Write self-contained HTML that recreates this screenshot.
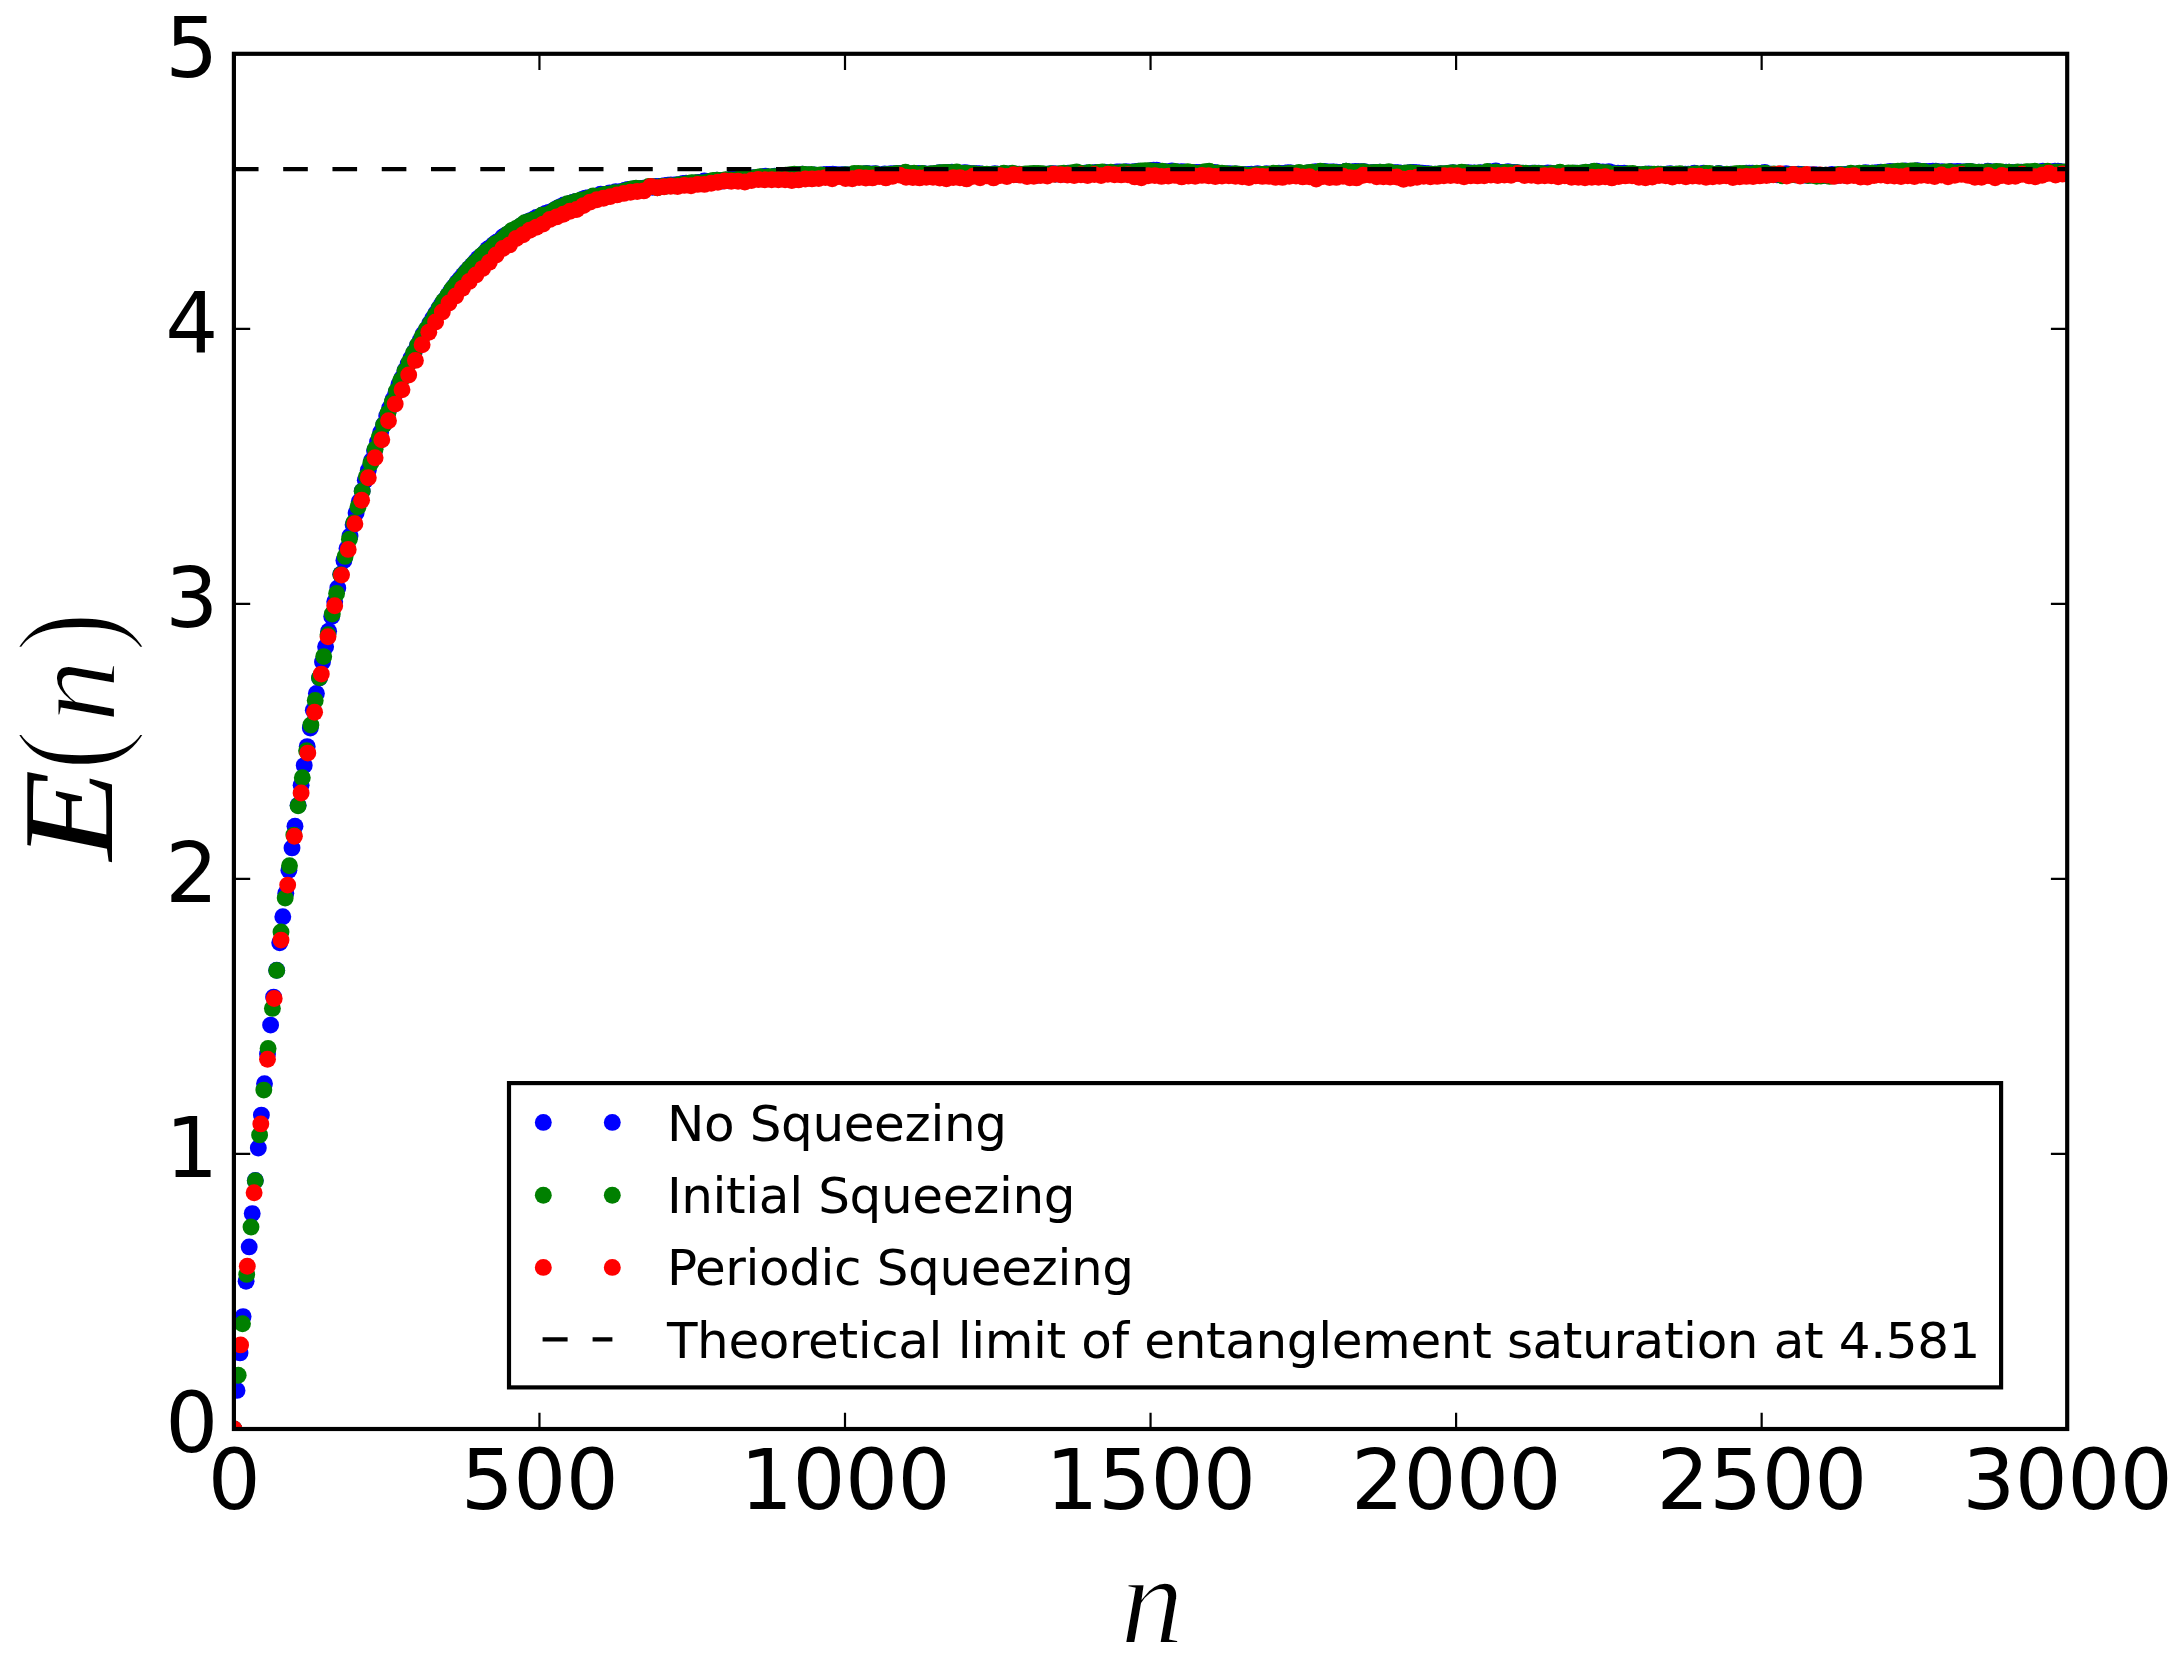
<!DOCTYPE html>
<html lang="en">
<head>
<meta charset="utf-8">
<title>E(n) entanglement saturation</title>
<style>
html,body{margin:0;padding:0;background:#fff;}
body{width:2182px;height:1662px;overflow:hidden;}
svg{display:block;}
.tick{font-family:"DejaVu Sans","Liberation Sans",sans-serif;font-size:83.33px;fill:#000;letter-spacing:-0.5px;}
.leg{font-family:"DejaVu Sans","Liberation Sans",sans-serif;font-size:50px;fill:#000;letter-spacing:-0.37px;}
.mi{font-family:"Liberation Serif","DejaVu Serif",serif;font-style:italic;fill:#000;}
.mr{font-family:"Liberation Serif","DejaVu Serif",serif;fill:#000;}
</style>
</head>
<body>
<svg width="2182" height="1662" viewBox="0 0 2182 1662">
<rect x="0" y="0" width="2182" height="1662" fill="#ffffff"/>
<defs><clipPath id="ax"><rect x="233.90" y="53.80" width="1833.30" height="1375.20"/></clipPath></defs>

<g clip-path="url(#ax)">
<g fill="#0000ff">
<circle cx="233.9" cy="1429.0" r="8.45"/>
<circle cx="237.0" cy="1390.4" r="8.45"/>
<circle cx="240.0" cy="1352.9" r="8.45"/>
<circle cx="243.1" cy="1316.6" r="8.45"/>
<circle cx="246.1" cy="1281.3" r="8.45"/>
<circle cx="249.2" cy="1246.9" r="8.45"/>
<circle cx="252.2" cy="1213.6" r="8.45"/>
<circle cx="255.3" cy="1180.5" r="8.45"/>
<circle cx="258.3" cy="1148.0" r="8.45"/>
<circle cx="261.4" cy="1115.1" r="8.45"/>
<circle cx="264.5" cy="1083.8" r="8.45"/>
<circle cx="267.5" cy="1054.1" r="8.45"/>
<circle cx="270.6" cy="1025.1" r="8.45"/>
<circle cx="273.6" cy="997.1" r="8.45"/>
<circle cx="276.7" cy="970.2" r="8.45"/>
<circle cx="279.7" cy="942.7" r="8.45"/>
<circle cx="282.8" cy="916.8" r="8.45"/>
<circle cx="285.8" cy="893.2" r="8.45"/>
<circle cx="288.9" cy="870.2" r="8.45"/>
<circle cx="292.0" cy="847.9" r="8.45"/>
<circle cx="295.0" cy="826.2" r="8.45"/>
<circle cx="298.1" cy="805.3" r="8.45"/>
<circle cx="301.1" cy="785.2" r="8.45"/>
<circle cx="304.2" cy="765.6" r="8.45"/>
<circle cx="307.2" cy="746.6" r="8.45"/>
<circle cx="310.3" cy="728.1" r="8.45"/>
<circle cx="313.3" cy="710.3" r="8.45"/>
<circle cx="316.4" cy="693.5" r="8.45"/>
<circle cx="319.5" cy="677.9" r="8.45"/>
<circle cx="322.5" cy="661.9" r="8.45"/>
<circle cx="325.6" cy="646.8" r="8.45"/>
<circle cx="328.6" cy="631.2" r="8.45"/>
<circle cx="331.7" cy="616.6" r="8.45"/>
<circle cx="334.7" cy="601.8" r="8.45"/>
<circle cx="337.8" cy="588.0" r="8.45"/>
<circle cx="340.8" cy="574.2" r="8.45"/>
<circle cx="343.9" cy="560.4" r="8.45"/>
<circle cx="347.0" cy="548.6" r="8.45"/>
<circle cx="350.0" cy="536.1" r="8.45"/>
<circle cx="353.1" cy="524.8" r="8.45"/>
<circle cx="356.1" cy="513.0" r="8.45"/>
<circle cx="359.2" cy="501.7" r="8.45"/>
<circle cx="362.2" cy="491.0" r="8.45"/>
<circle cx="365.3" cy="480.3" r="8.45"/>
<circle cx="368.3" cy="470.2" r="8.45"/>
<circle cx="371.4" cy="460.8" r="8.45"/>
<circle cx="374.5" cy="450.8" r="8.45"/>
<circle cx="377.5" cy="442.1" r="8.45"/>
<circle cx="380.6" cy="432.4" r="8.45"/>
<circle cx="383.6" cy="424.7" r="8.45"/>
<circle cx="386.7" cy="415.9" r="8.45"/>
<circle cx="389.7" cy="408.0" r="8.45"/>
<circle cx="392.8" cy="399.8" r="8.45"/>
<circle cx="395.8" cy="392.7" r="8.45"/>
<circle cx="398.9" cy="384.6" r="8.45"/>
<circle cx="402.0" cy="377.9" r="8.45"/>
<circle cx="405.0" cy="370.5" r="8.45"/>
<circle cx="408.1" cy="364.1" r="8.45"/>
<circle cx="411.1" cy="357.9" r="8.45"/>
<circle cx="414.2" cy="352.2" r="8.45"/>
<circle cx="417.2" cy="345.7" r="8.45"/>
<circle cx="420.3" cy="340.2" r="8.45"/>
<circle cx="423.3" cy="334.1" r="8.45"/>
<circle cx="426.4" cy="329.5" r="8.45"/>
<circle cx="429.5" cy="323.8" r="8.45"/>
<circle cx="432.5" cy="318.7" r="8.45"/>
<circle cx="435.6" cy="313.7" r="8.45"/>
<circle cx="438.6" cy="308.8" r="8.45"/>
<circle cx="441.7" cy="304.1" r="8.45"/>
<circle cx="444.7" cy="299.9" r="8.45"/>
<circle cx="447.8" cy="295.6" r="8.45"/>
<circle cx="450.8" cy="291.1" r="8.45"/>
<circle cx="453.9" cy="286.7" r="8.45"/>
<circle cx="457.0" cy="282.4" r="8.45"/>
<circle cx="460.0" cy="278.9" r="8.45"/>
<circle cx="463.1" cy="275.2" r="8.45"/>
<circle cx="466.1" cy="271.8" r="8.45"/>
<circle cx="469.2" cy="268.4" r="8.45"/>
<circle cx="472.2" cy="265.3" r="8.45"/>
<circle cx="475.3" cy="261.8" r="8.45"/>
<circle cx="478.3" cy="258.2" r="8.45"/>
<circle cx="481.4" cy="255.9" r="8.45"/>
<circle cx="484.5" cy="253.1" r="8.45"/>
<circle cx="487.5" cy="249.2" r="8.45"/>
<circle cx="490.6" cy="247.2" r="8.45"/>
<circle cx="493.6" cy="244.4" r="8.45"/>
<circle cx="496.7" cy="242.1" r="8.45"/>
<circle cx="499.7" cy="240.6" r="8.45"/>
<circle cx="502.8" cy="237.0" r="8.45"/>
<circle cx="505.8" cy="235.1" r="8.45"/>
<circle cx="508.9" cy="233.5" r="8.45"/>
<circle cx="512.0" cy="231.3" r="8.45"/>
<circle cx="515.0" cy="229.6" r="8.45"/>
<circle cx="518.1" cy="228.0" r="8.45"/>
<circle cx="521.1" cy="225.8" r="8.45"/>
<circle cx="524.2" cy="223.8" r="8.45"/>
<circle cx="527.2" cy="221.9" r="8.45"/>
<circle cx="530.3" cy="220.6" r="8.45"/>
<circle cx="533.3" cy="219.4" r="8.45"/>
<circle cx="536.4" cy="217.5" r="8.45"/>
<circle cx="539.4" cy="217.0" r="8.45"/>
<circle cx="542.5" cy="215.0" r="8.45"/>
<circle cx="545.6" cy="213.4" r="8.45"/>
<circle cx="548.6" cy="212.5" r="8.45"/>
<circle cx="551.7" cy="211.6" r="8.45"/>
<circle cx="554.7" cy="209.8" r="8.45"/>
<circle cx="557.8" cy="208.0" r="8.45"/>
<circle cx="560.8" cy="206.6" r="8.45"/>
<circle cx="563.9" cy="204.9" r="8.45"/>
<circle cx="566.9" cy="204.9" r="8.45"/>
<circle cx="570.0" cy="203.4" r="8.45"/>
<circle cx="573.1" cy="202.1" r="8.45"/>
<circle cx="576.1" cy="201.5" r="8.45"/>
<circle cx="579.2" cy="201.6" r="8.45"/>
<circle cx="582.2" cy="199.5" r="8.45"/>
<circle cx="585.3" cy="198.1" r="8.45"/>
<circle cx="588.3" cy="197.8" r="8.45"/>
<circle cx="591.4" cy="197.9" r="8.45"/>
<circle cx="594.4" cy="197.0" r="8.45"/>
<circle cx="597.5" cy="196.0" r="8.45"/>
<circle cx="600.6" cy="194.3" r="8.45"/>
<circle cx="603.6" cy="194.5" r="8.45"/>
<circle cx="606.7" cy="194.2" r="8.45"/>
<circle cx="609.7" cy="193.0" r="8.45"/>
<circle cx="612.8" cy="193.1" r="8.45"/>
<circle cx="615.8" cy="191.7" r="8.45"/>
<circle cx="618.9" cy="192.2" r="8.45"/>
<circle cx="621.9" cy="191.5" r="8.45"/>
<circle cx="625.0" cy="190.3" r="8.45"/>
<circle cx="628.1" cy="189.4" r="8.45"/>
<circle cx="631.1" cy="189.2" r="8.45"/>
<circle cx="634.2" cy="188.9" r="8.45"/>
<circle cx="637.2" cy="189.3" r="8.45"/>
<circle cx="640.3" cy="188.5" r="8.45"/>
<circle cx="643.3" cy="188.2" r="8.45"/>
<circle cx="646.4" cy="187.9" r="8.45"/>
<circle cx="649.4" cy="187.1" r="8.45"/>
<circle cx="652.5" cy="187.2" r="8.45"/>
<circle cx="655.6" cy="186.5" r="8.45"/>
<circle cx="658.6" cy="186.5" r="8.45"/>
<circle cx="661.7" cy="186.3" r="8.45"/>
<circle cx="664.7" cy="185.8" r="8.45"/>
<circle cx="667.8" cy="185.3" r="8.45"/>
<circle cx="670.8" cy="184.9" r="8.45"/>
<circle cx="673.9" cy="185.1" r="8.45"/>
<circle cx="676.9" cy="184.7" r="8.45"/>
<circle cx="680.0" cy="184.9" r="8.45"/>
<circle cx="683.1" cy="183.4" r="8.45"/>
<circle cx="686.1" cy="183.1" r="8.45"/>
<circle cx="689.2" cy="183.4" r="8.45"/>
<circle cx="692.2" cy="183.2" r="8.45"/>
<circle cx="695.3" cy="183.3" r="8.45"/>
<circle cx="698.3" cy="182.4" r="8.45"/>
<circle cx="701.4" cy="182.1" r="8.45"/>
<circle cx="704.4" cy="180.9" r="8.45"/>
<circle cx="707.5" cy="181.4" r="8.45"/>
<circle cx="710.6" cy="181.6" r="8.45"/>
<circle cx="713.6" cy="181.9" r="8.45"/>
<circle cx="716.7" cy="180.1" r="8.45"/>
<circle cx="719.7" cy="180.4" r="8.45"/>
<circle cx="722.8" cy="181.0" r="8.45"/>
<circle cx="725.8" cy="180.2" r="8.45"/>
<circle cx="728.9" cy="180.8" r="8.45"/>
<circle cx="731.9" cy="178.6" r="8.45"/>
<circle cx="735.0" cy="179.4" r="8.45"/>
<circle cx="738.1" cy="179.3" r="8.45"/>
<circle cx="741.1" cy="179.3" r="8.45"/>
<circle cx="744.2" cy="179.8" r="8.45"/>
<circle cx="747.2" cy="178.6" r="8.45"/>
<circle cx="750.3" cy="178.7" r="8.45"/>
<circle cx="753.3" cy="177.6" r="8.45"/>
<circle cx="756.4" cy="178.4" r="8.45"/>
<circle cx="759.4" cy="177.7" r="8.45"/>
<circle cx="762.5" cy="176.6" r="8.45"/>
<circle cx="765.6" cy="176.3" r="8.45"/>
<circle cx="768.6" cy="177.4" r="8.45"/>
<circle cx="771.7" cy="177.3" r="8.45"/>
<circle cx="774.7" cy="176.2" r="8.45"/>
<circle cx="777.8" cy="176.1" r="8.45"/>
<circle cx="780.8" cy="176.6" r="8.45"/>
<circle cx="783.9" cy="176.2" r="8.45"/>
<circle cx="786.9" cy="175.9" r="8.45"/>
<circle cx="790.0" cy="175.9" r="8.45"/>
<circle cx="793.1" cy="175.5" r="8.45"/>
<circle cx="796.1" cy="174.6" r="8.45"/>
<circle cx="799.2" cy="174.7" r="8.45"/>
<circle cx="802.2" cy="174.1" r="8.45"/>
<circle cx="805.3" cy="175.0" r="8.45"/>
<circle cx="808.3" cy="175.0" r="8.45"/>
<circle cx="811.4" cy="175.4" r="8.45"/>
<circle cx="814.4" cy="175.0" r="8.45"/>
<circle cx="817.5" cy="175.6" r="8.45"/>
<circle cx="820.6" cy="175.8" r="8.45"/>
<circle cx="823.6" cy="174.7" r="8.45"/>
<circle cx="826.7" cy="174.4" r="8.45"/>
<circle cx="829.7" cy="174.5" r="8.45"/>
<circle cx="832.8" cy="174.2" r="8.45"/>
<circle cx="835.8" cy="174.6" r="8.45"/>
<circle cx="838.9" cy="174.9" r="8.45"/>
<circle cx="841.9" cy="174.6" r="8.45"/>
<circle cx="845.0" cy="174.8" r="8.45"/>
<circle cx="848.1" cy="175.0" r="8.45"/>
<circle cx="851.1" cy="175.2" r="8.45"/>
<circle cx="854.2" cy="175.1" r="8.45"/>
<circle cx="857.2" cy="174.4" r="8.45"/>
<circle cx="860.3" cy="174.2" r="8.45"/>
<circle cx="863.3" cy="174.3" r="8.45"/>
<circle cx="866.4" cy="173.5" r="8.45"/>
<circle cx="869.4" cy="174.0" r="8.45"/>
<circle cx="872.5" cy="173.9" r="8.45"/>
<circle cx="875.6" cy="173.7" r="8.45"/>
<circle cx="878.6" cy="174.6" r="8.45"/>
<circle cx="881.7" cy="175.1" r="8.45"/>
<circle cx="884.7" cy="174.0" r="8.45"/>
<circle cx="887.8" cy="174.5" r="8.45"/>
<circle cx="890.8" cy="173.6" r="8.45"/>
<circle cx="893.9" cy="173.9" r="8.45"/>
<circle cx="896.9" cy="173.5" r="8.45"/>
<circle cx="900.0" cy="173.4" r="8.45"/>
<circle cx="903.1" cy="174.5" r="8.45"/>
<circle cx="906.1" cy="173.3" r="8.45"/>
<circle cx="909.2" cy="173.8" r="8.45"/>
<circle cx="912.2" cy="173.9" r="8.45"/>
<circle cx="915.3" cy="173.9" r="8.45"/>
<circle cx="918.3" cy="173.5" r="8.45"/>
<circle cx="921.4" cy="173.6" r="8.45"/>
<circle cx="924.4" cy="173.6" r="8.45"/>
<circle cx="927.5" cy="174.6" r="8.45"/>
<circle cx="930.6" cy="174.0" r="8.45"/>
<circle cx="933.6" cy="174.6" r="8.45"/>
<circle cx="936.7" cy="173.3" r="8.45"/>
<circle cx="939.7" cy="172.8" r="8.45"/>
<circle cx="942.8" cy="173.1" r="8.45"/>
<circle cx="945.8" cy="172.6" r="8.45"/>
<circle cx="948.9" cy="172.5" r="8.45"/>
<circle cx="951.9" cy="172.2" r="8.45"/>
<circle cx="955.0" cy="173.2" r="8.45"/>
<circle cx="958.1" cy="173.3" r="8.45"/>
<circle cx="961.1" cy="173.5" r="8.45"/>
<circle cx="964.2" cy="172.6" r="8.45"/>
<circle cx="967.2" cy="173.0" r="8.45"/>
<circle cx="970.3" cy="173.6" r="8.45"/>
<circle cx="973.3" cy="173.6" r="8.45"/>
<circle cx="976.4" cy="173.7" r="8.45"/>
<circle cx="979.4" cy="173.8" r="8.45"/>
<circle cx="982.5" cy="174.1" r="8.45"/>
<circle cx="985.6" cy="174.4" r="8.45"/>
<circle cx="988.6" cy="174.9" r="8.45"/>
<circle cx="991.7" cy="174.7" r="8.45"/>
<circle cx="994.7" cy="173.7" r="8.45"/>
<circle cx="997.8" cy="174.1" r="8.45"/>
<circle cx="1000.8" cy="174.2" r="8.45"/>
<circle cx="1003.9" cy="174.2" r="8.45"/>
<circle cx="1006.9" cy="174.0" r="8.45"/>
<circle cx="1010.0" cy="173.9" r="8.45"/>
<circle cx="1013.1" cy="174.4" r="8.45"/>
<circle cx="1016.1" cy="174.2" r="8.45"/>
<circle cx="1019.2" cy="174.3" r="8.45"/>
<circle cx="1022.2" cy="174.8" r="8.45"/>
<circle cx="1025.3" cy="174.8" r="8.45"/>
<circle cx="1028.3" cy="174.9" r="8.45"/>
<circle cx="1031.4" cy="174.8" r="8.45"/>
<circle cx="1034.4" cy="173.9" r="8.45"/>
<circle cx="1037.5" cy="175.2" r="8.45"/>
<circle cx="1040.6" cy="174.3" r="8.45"/>
<circle cx="1043.6" cy="174.3" r="8.45"/>
<circle cx="1046.7" cy="174.3" r="8.45"/>
<circle cx="1049.7" cy="174.0" r="8.45"/>
<circle cx="1052.8" cy="173.6" r="8.45"/>
<circle cx="1055.8" cy="174.0" r="8.45"/>
<circle cx="1058.9" cy="174.1" r="8.45"/>
<circle cx="1061.9" cy="174.2" r="8.45"/>
<circle cx="1065.0" cy="173.9" r="8.45"/>
<circle cx="1068.1" cy="173.3" r="8.45"/>
<circle cx="1071.1" cy="173.7" r="8.45"/>
<circle cx="1074.2" cy="173.8" r="8.45"/>
<circle cx="1077.2" cy="173.9" r="8.45"/>
<circle cx="1080.3" cy="173.8" r="8.45"/>
<circle cx="1083.3" cy="174.0" r="8.45"/>
<circle cx="1086.4" cy="172.9" r="8.45"/>
<circle cx="1089.4" cy="173.1" r="8.45"/>
<circle cx="1092.5" cy="173.3" r="8.45"/>
<circle cx="1095.6" cy="172.5" r="8.45"/>
<circle cx="1098.6" cy="173.2" r="8.45"/>
<circle cx="1101.7" cy="172.4" r="8.45"/>
<circle cx="1104.7" cy="172.3" r="8.45"/>
<circle cx="1107.8" cy="173.2" r="8.45"/>
<circle cx="1110.8" cy="173.1" r="8.45"/>
<circle cx="1113.9" cy="172.8" r="8.45"/>
<circle cx="1116.9" cy="172.0" r="8.45"/>
<circle cx="1120.0" cy="171.9" r="8.45"/>
<circle cx="1123.1" cy="172.9" r="8.45"/>
<circle cx="1126.1" cy="171.8" r="8.45"/>
<circle cx="1129.2" cy="172.2" r="8.45"/>
<circle cx="1132.2" cy="172.0" r="8.45"/>
<circle cx="1135.3" cy="171.7" r="8.45"/>
<circle cx="1138.3" cy="171.3" r="8.45"/>
<circle cx="1141.4" cy="171.8" r="8.45"/>
<circle cx="1144.4" cy="171.4" r="8.45"/>
<circle cx="1147.5" cy="171.5" r="8.45"/>
<circle cx="1150.5" cy="170.8" r="8.45"/>
<circle cx="1153.6" cy="170.2" r="8.45"/>
<circle cx="1156.7" cy="170.1" r="8.45"/>
<circle cx="1159.7" cy="171.5" r="8.45"/>
<circle cx="1162.8" cy="172.2" r="8.45"/>
<circle cx="1165.8" cy="171.7" r="8.45"/>
<circle cx="1168.9" cy="172.0" r="8.45"/>
<circle cx="1171.9" cy="171.0" r="8.45"/>
<circle cx="1175.0" cy="171.6" r="8.45"/>
<circle cx="1178.0" cy="172.2" r="8.45"/>
<circle cx="1181.1" cy="171.6" r="8.45"/>
<circle cx="1184.2" cy="172.0" r="8.45"/>
<circle cx="1187.2" cy="173.0" r="8.45"/>
<circle cx="1190.3" cy="172.6" r="8.45"/>
<circle cx="1193.3" cy="172.6" r="8.45"/>
<circle cx="1196.4" cy="172.5" r="8.45"/>
<circle cx="1199.4" cy="172.4" r="8.45"/>
<circle cx="1202.5" cy="172.7" r="8.45"/>
<circle cx="1205.5" cy="172.6" r="8.45"/>
<circle cx="1208.6" cy="173.0" r="8.45"/>
<circle cx="1211.7" cy="173.3" r="8.45"/>
<circle cx="1214.7" cy="172.5" r="8.45"/>
<circle cx="1217.8" cy="173.3" r="8.45"/>
<circle cx="1220.8" cy="173.4" r="8.45"/>
<circle cx="1223.9" cy="174.4" r="8.45"/>
<circle cx="1226.9" cy="174.0" r="8.45"/>
<circle cx="1230.0" cy="173.8" r="8.45"/>
<circle cx="1233.0" cy="174.7" r="8.45"/>
<circle cx="1236.1" cy="173.9" r="8.45"/>
<circle cx="1239.2" cy="174.6" r="8.45"/>
<circle cx="1242.2" cy="174.4" r="8.45"/>
<circle cx="1245.3" cy="174.7" r="8.45"/>
<circle cx="1248.3" cy="174.5" r="8.45"/>
<circle cx="1251.4" cy="174.1" r="8.45"/>
<circle cx="1254.4" cy="174.8" r="8.45"/>
<circle cx="1257.5" cy="173.8" r="8.45"/>
<circle cx="1260.5" cy="174.6" r="8.45"/>
<circle cx="1263.6" cy="174.6" r="8.45"/>
<circle cx="1266.7" cy="173.8" r="8.45"/>
<circle cx="1269.7" cy="174.4" r="8.45"/>
<circle cx="1272.8" cy="174.0" r="8.45"/>
<circle cx="1275.8" cy="173.4" r="8.45"/>
<circle cx="1278.9" cy="173.2" r="8.45"/>
<circle cx="1281.9" cy="174.3" r="8.45"/>
<circle cx="1285.0" cy="173.3" r="8.45"/>
<circle cx="1288.0" cy="172.7" r="8.45"/>
<circle cx="1291.1" cy="172.9" r="8.45"/>
<circle cx="1294.2" cy="173.4" r="8.45"/>
<circle cx="1297.2" cy="173.5" r="8.45"/>
<circle cx="1300.3" cy="173.3" r="8.45"/>
<circle cx="1303.3" cy="173.6" r="8.45"/>
<circle cx="1306.4" cy="173.1" r="8.45"/>
<circle cx="1309.4" cy="172.8" r="8.45"/>
<circle cx="1312.5" cy="172.6" r="8.45"/>
<circle cx="1315.5" cy="171.8" r="8.45"/>
<circle cx="1318.6" cy="172.1" r="8.45"/>
<circle cx="1321.7" cy="172.5" r="8.45"/>
<circle cx="1324.7" cy="171.4" r="8.45"/>
<circle cx="1327.8" cy="172.3" r="8.45"/>
<circle cx="1330.8" cy="172.0" r="8.45"/>
<circle cx="1333.9" cy="171.9" r="8.45"/>
<circle cx="1336.9" cy="172.1" r="8.45"/>
<circle cx="1340.0" cy="172.4" r="8.45"/>
<circle cx="1343.0" cy="172.1" r="8.45"/>
<circle cx="1346.1" cy="171.1" r="8.45"/>
<circle cx="1349.2" cy="172.2" r="8.45"/>
<circle cx="1352.2" cy="172.0" r="8.45"/>
<circle cx="1355.3" cy="171.4" r="8.45"/>
<circle cx="1358.3" cy="171.6" r="8.45"/>
<circle cx="1361.4" cy="171.7" r="8.45"/>
<circle cx="1364.4" cy="171.8" r="8.45"/>
<circle cx="1367.5" cy="173.2" r="8.45"/>
<circle cx="1370.5" cy="172.9" r="8.45"/>
<circle cx="1373.6" cy="172.5" r="8.45"/>
<circle cx="1376.7" cy="172.4" r="8.45"/>
<circle cx="1379.7" cy="172.1" r="8.45"/>
<circle cx="1382.8" cy="172.5" r="8.45"/>
<circle cx="1385.8" cy="172.8" r="8.45"/>
<circle cx="1388.9" cy="172.7" r="8.45"/>
<circle cx="1391.9" cy="172.9" r="8.45"/>
<circle cx="1395.0" cy="172.8" r="8.45"/>
<circle cx="1398.0" cy="172.7" r="8.45"/>
<circle cx="1401.1" cy="173.1" r="8.45"/>
<circle cx="1404.2" cy="173.2" r="8.45"/>
<circle cx="1407.2" cy="173.2" r="8.45"/>
<circle cx="1410.3" cy="172.4" r="8.45"/>
<circle cx="1413.3" cy="172.5" r="8.45"/>
<circle cx="1416.4" cy="172.7" r="8.45"/>
<circle cx="1419.4" cy="173.0" r="8.45"/>
<circle cx="1422.5" cy="173.2" r="8.45"/>
<circle cx="1425.5" cy="173.8" r="8.45"/>
<circle cx="1428.6" cy="173.7" r="8.45"/>
<circle cx="1431.7" cy="174.5" r="8.45"/>
<circle cx="1434.7" cy="174.2" r="8.45"/>
<circle cx="1437.8" cy="174.5" r="8.45"/>
<circle cx="1440.8" cy="173.8" r="8.45"/>
<circle cx="1443.9" cy="174.2" r="8.45"/>
<circle cx="1446.9" cy="173.8" r="8.45"/>
<circle cx="1450.0" cy="173.3" r="8.45"/>
<circle cx="1453.0" cy="172.7" r="8.45"/>
<circle cx="1456.1" cy="173.4" r="8.45"/>
<circle cx="1459.2" cy="173.3" r="8.45"/>
<circle cx="1462.2" cy="172.5" r="8.45"/>
<circle cx="1465.3" cy="173.3" r="8.45"/>
<circle cx="1468.3" cy="172.7" r="8.45"/>
<circle cx="1471.4" cy="173.1" r="8.45"/>
<circle cx="1474.4" cy="173.0" r="8.45"/>
<circle cx="1477.5" cy="173.6" r="8.45"/>
<circle cx="1480.5" cy="172.6" r="8.45"/>
<circle cx="1483.6" cy="173.1" r="8.45"/>
<circle cx="1486.7" cy="173.1" r="8.45"/>
<circle cx="1489.7" cy="171.8" r="8.45"/>
<circle cx="1492.8" cy="172.3" r="8.45"/>
<circle cx="1495.8" cy="171.0" r="8.45"/>
<circle cx="1498.9" cy="172.2" r="8.45"/>
<circle cx="1501.9" cy="172.5" r="8.45"/>
<circle cx="1505.0" cy="172.4" r="8.45"/>
<circle cx="1508.0" cy="171.8" r="8.45"/>
<circle cx="1511.1" cy="172.5" r="8.45"/>
<circle cx="1514.2" cy="172.5" r="8.45"/>
<circle cx="1517.2" cy="172.7" r="8.45"/>
<circle cx="1520.3" cy="173.5" r="8.45"/>
<circle cx="1523.3" cy="173.2" r="8.45"/>
<circle cx="1526.4" cy="173.6" r="8.45"/>
<circle cx="1529.4" cy="174.0" r="8.45"/>
<circle cx="1532.5" cy="173.1" r="8.45"/>
<circle cx="1535.5" cy="173.1" r="8.45"/>
<circle cx="1538.6" cy="173.3" r="8.45"/>
<circle cx="1541.7" cy="173.6" r="8.45"/>
<circle cx="1544.7" cy="174.0" r="8.45"/>
<circle cx="1547.8" cy="173.0" r="8.45"/>
<circle cx="1550.8" cy="173.3" r="8.45"/>
<circle cx="1553.9" cy="174.1" r="8.45"/>
<circle cx="1556.9" cy="173.4" r="8.45"/>
<circle cx="1560.0" cy="174.1" r="8.45"/>
<circle cx="1563.0" cy="173.5" r="8.45"/>
<circle cx="1566.1" cy="173.6" r="8.45"/>
<circle cx="1569.2" cy="173.5" r="8.45"/>
<circle cx="1572.2" cy="173.5" r="8.45"/>
<circle cx="1575.3" cy="173.3" r="8.45"/>
<circle cx="1578.3" cy="173.7" r="8.45"/>
<circle cx="1581.4" cy="173.2" r="8.45"/>
<circle cx="1584.4" cy="172.9" r="8.45"/>
<circle cx="1587.5" cy="172.5" r="8.45"/>
<circle cx="1590.5" cy="172.1" r="8.45"/>
<circle cx="1593.6" cy="171.8" r="8.45"/>
<circle cx="1596.7" cy="171.3" r="8.45"/>
<circle cx="1599.7" cy="173.0" r="8.45"/>
<circle cx="1602.8" cy="172.0" r="8.45"/>
<circle cx="1605.8" cy="172.5" r="8.45"/>
<circle cx="1608.9" cy="171.7" r="8.45"/>
<circle cx="1611.9" cy="172.6" r="8.45"/>
<circle cx="1615.0" cy="173.9" r="8.45"/>
<circle cx="1618.0" cy="173.2" r="8.45"/>
<circle cx="1621.1" cy="173.8" r="8.45"/>
<circle cx="1624.2" cy="173.3" r="8.45"/>
<circle cx="1627.2" cy="174.4" r="8.45"/>
<circle cx="1630.3" cy="174.2" r="8.45"/>
<circle cx="1633.3" cy="174.3" r="8.45"/>
<circle cx="1636.4" cy="174.4" r="8.45"/>
<circle cx="1639.4" cy="174.7" r="8.45"/>
<circle cx="1642.5" cy="175.1" r="8.45"/>
<circle cx="1645.5" cy="174.1" r="8.45"/>
<circle cx="1648.6" cy="173.9" r="8.45"/>
<circle cx="1651.7" cy="174.3" r="8.45"/>
<circle cx="1654.7" cy="174.7" r="8.45"/>
<circle cx="1657.8" cy="174.2" r="8.45"/>
<circle cx="1660.8" cy="174.1" r="8.45"/>
<circle cx="1663.9" cy="174.4" r="8.45"/>
<circle cx="1666.9" cy="174.3" r="8.45"/>
<circle cx="1670.0" cy="173.6" r="8.45"/>
<circle cx="1673.0" cy="174.6" r="8.45"/>
<circle cx="1676.1" cy="174.3" r="8.45"/>
<circle cx="1679.2" cy="174.7" r="8.45"/>
<circle cx="1682.2" cy="174.2" r="8.45"/>
<circle cx="1685.3" cy="174.2" r="8.45"/>
<circle cx="1688.3" cy="174.3" r="8.45"/>
<circle cx="1691.4" cy="174.2" r="8.45"/>
<circle cx="1694.4" cy="173.2" r="8.45"/>
<circle cx="1697.5" cy="174.1" r="8.45"/>
<circle cx="1700.5" cy="174.1" r="8.45"/>
<circle cx="1703.6" cy="173.2" r="8.45"/>
<circle cx="1706.7" cy="174.1" r="8.45"/>
<circle cx="1709.7" cy="174.8" r="8.45"/>
<circle cx="1712.8" cy="174.1" r="8.45"/>
<circle cx="1715.8" cy="174.6" r="8.45"/>
<circle cx="1718.9" cy="173.5" r="8.45"/>
<circle cx="1721.9" cy="174.7" r="8.45"/>
<circle cx="1725.0" cy="174.4" r="8.45"/>
<circle cx="1728.0" cy="174.8" r="8.45"/>
<circle cx="1731.1" cy="174.1" r="8.45"/>
<circle cx="1734.2" cy="174.5" r="8.45"/>
<circle cx="1737.2" cy="174.1" r="8.45"/>
<circle cx="1740.3" cy="174.1" r="8.45"/>
<circle cx="1743.3" cy="174.1" r="8.45"/>
<circle cx="1746.4" cy="173.3" r="8.45"/>
<circle cx="1749.4" cy="173.1" r="8.45"/>
<circle cx="1752.5" cy="173.3" r="8.45"/>
<circle cx="1755.5" cy="173.6" r="8.45"/>
<circle cx="1758.6" cy="173.7" r="8.45"/>
<circle cx="1761.6" cy="173.3" r="8.45"/>
<circle cx="1764.7" cy="172.5" r="8.45"/>
<circle cx="1767.8" cy="173.9" r="8.45"/>
<circle cx="1770.8" cy="174.2" r="8.45"/>
<circle cx="1773.9" cy="174.4" r="8.45"/>
<circle cx="1776.9" cy="174.7" r="8.45"/>
<circle cx="1780.0" cy="174.8" r="8.45"/>
<circle cx="1783.0" cy="174.5" r="8.45"/>
<circle cx="1786.1" cy="173.8" r="8.45"/>
<circle cx="1789.1" cy="174.4" r="8.45"/>
<circle cx="1792.2" cy="174.5" r="8.45"/>
<circle cx="1795.3" cy="174.9" r="8.45"/>
<circle cx="1798.3" cy="174.2" r="8.45"/>
<circle cx="1801.4" cy="174.4" r="8.45"/>
<circle cx="1804.4" cy="175.1" r="8.45"/>
<circle cx="1807.5" cy="175.2" r="8.45"/>
<circle cx="1810.5" cy="175.0" r="8.45"/>
<circle cx="1813.6" cy="174.7" r="8.45"/>
<circle cx="1816.6" cy="175.0" r="8.45"/>
<circle cx="1819.7" cy="175.2" r="8.45"/>
<circle cx="1822.8" cy="175.5" r="8.45"/>
<circle cx="1825.8" cy="175.3" r="8.45"/>
<circle cx="1828.9" cy="175.4" r="8.45"/>
<circle cx="1831.9" cy="174.5" r="8.45"/>
<circle cx="1835.0" cy="175.8" r="8.45"/>
<circle cx="1838.0" cy="175.4" r="8.45"/>
<circle cx="1841.1" cy="174.6" r="8.45"/>
<circle cx="1844.1" cy="175.0" r="8.45"/>
<circle cx="1847.2" cy="174.1" r="8.45"/>
<circle cx="1850.3" cy="174.4" r="8.45"/>
<circle cx="1853.3" cy="174.1" r="8.45"/>
<circle cx="1856.4" cy="174.0" r="8.45"/>
<circle cx="1859.4" cy="174.3" r="8.45"/>
<circle cx="1862.5" cy="174.0" r="8.45"/>
<circle cx="1865.5" cy="172.6" r="8.45"/>
<circle cx="1868.6" cy="173.2" r="8.45"/>
<circle cx="1871.6" cy="173.1" r="8.45"/>
<circle cx="1874.7" cy="172.9" r="8.45"/>
<circle cx="1877.8" cy="172.7" r="8.45"/>
<circle cx="1880.8" cy="172.3" r="8.45"/>
<circle cx="1883.9" cy="172.6" r="8.45"/>
<circle cx="1886.9" cy="172.3" r="8.45"/>
<circle cx="1890.0" cy="171.5" r="8.45"/>
<circle cx="1893.0" cy="171.9" r="8.45"/>
<circle cx="1896.1" cy="172.2" r="8.45"/>
<circle cx="1899.1" cy="171.7" r="8.45"/>
<circle cx="1902.2" cy="171.6" r="8.45"/>
<circle cx="1905.3" cy="171.0" r="8.45"/>
<circle cx="1908.3" cy="171.6" r="8.45"/>
<circle cx="1911.4" cy="171.8" r="8.45"/>
<circle cx="1914.4" cy="171.5" r="8.45"/>
<circle cx="1917.5" cy="170.8" r="8.45"/>
<circle cx="1920.5" cy="171.5" r="8.45"/>
<circle cx="1923.6" cy="171.5" r="8.45"/>
<circle cx="1926.6" cy="171.6" r="8.45"/>
<circle cx="1929.7" cy="171.5" r="8.45"/>
<circle cx="1932.8" cy="171.3" r="8.45"/>
<circle cx="1935.8" cy="171.3" r="8.45"/>
<circle cx="1938.9" cy="172.7" r="8.45"/>
<circle cx="1941.9" cy="171.6" r="8.45"/>
<circle cx="1945.0" cy="172.4" r="8.45"/>
<circle cx="1948.0" cy="172.5" r="8.45"/>
<circle cx="1951.1" cy="171.4" r="8.45"/>
<circle cx="1954.1" cy="172.4" r="8.45"/>
<circle cx="1957.2" cy="171.4" r="8.45"/>
<circle cx="1960.3" cy="171.6" r="8.45"/>
<circle cx="1963.3" cy="172.3" r="8.45"/>
<circle cx="1966.4" cy="171.6" r="8.45"/>
<circle cx="1969.4" cy="171.5" r="8.45"/>
<circle cx="1972.5" cy="171.9" r="8.45"/>
<circle cx="1975.5" cy="173.0" r="8.45"/>
<circle cx="1978.6" cy="172.2" r="8.45"/>
<circle cx="1981.6" cy="172.1" r="8.45"/>
<circle cx="1984.7" cy="172.5" r="8.45"/>
<circle cx="1987.8" cy="171.2" r="8.45"/>
<circle cx="1990.8" cy="171.9" r="8.45"/>
<circle cx="1993.9" cy="172.0" r="8.45"/>
<circle cx="1996.9" cy="172.0" r="8.45"/>
<circle cx="2000.0" cy="172.3" r="8.45"/>
<circle cx="2003.0" cy="172.4" r="8.45"/>
<circle cx="2006.1" cy="172.2" r="8.45"/>
<circle cx="2009.1" cy="172.2" r="8.45"/>
<circle cx="2012.2" cy="172.6" r="8.45"/>
<circle cx="2015.3" cy="172.4" r="8.45"/>
<circle cx="2018.3" cy="172.9" r="8.45"/>
<circle cx="2021.4" cy="172.1" r="8.45"/>
<circle cx="2024.4" cy="172.6" r="8.45"/>
<circle cx="2027.5" cy="172.2" r="8.45"/>
<circle cx="2030.5" cy="172.7" r="8.45"/>
<circle cx="2033.6" cy="172.5" r="8.45"/>
<circle cx="2036.6" cy="172.2" r="8.45"/>
<circle cx="2039.7" cy="172.7" r="8.45"/>
<circle cx="2042.8" cy="171.1" r="8.45"/>
<circle cx="2045.8" cy="172.0" r="8.45"/>
<circle cx="2048.9" cy="171.9" r="8.45"/>
<circle cx="2051.9" cy="172.2" r="8.45"/>
<circle cx="2055.0" cy="171.2" r="8.45"/>
<circle cx="2058.0" cy="171.2" r="8.45"/>
<circle cx="2061.1" cy="171.6" r="8.45"/>
<circle cx="2064.1" cy="172.4" r="8.45"/>
<circle cx="2067.2" cy="172.1" r="8.45"/>
</g>
<g fill="#008000">
<circle cx="233.9" cy="1429.0" r="8.45"/>
<circle cx="238.2" cy="1375.3" r="8.45"/>
<circle cx="242.5" cy="1323.8" r="8.45"/>
<circle cx="246.7" cy="1274.4" r="8.45"/>
<circle cx="251.0" cy="1227.0" r="8.45"/>
<circle cx="255.3" cy="1180.8" r="8.45"/>
<circle cx="259.6" cy="1134.9" r="8.45"/>
<circle cx="263.8" cy="1090.1" r="8.45"/>
<circle cx="268.1" cy="1048.4" r="8.45"/>
<circle cx="272.4" cy="1008.4" r="8.45"/>
<circle cx="276.7" cy="970.4" r="8.45"/>
<circle cx="281.0" cy="931.9" r="8.45"/>
<circle cx="285.2" cy="898.1" r="8.45"/>
<circle cx="289.5" cy="865.8" r="8.45"/>
<circle cx="293.8" cy="835.1" r="8.45"/>
<circle cx="298.1" cy="805.8" r="8.45"/>
<circle cx="302.3" cy="777.8" r="8.45"/>
<circle cx="306.6" cy="750.7" r="8.45"/>
<circle cx="310.9" cy="725.0" r="8.45"/>
<circle cx="315.2" cy="700.4" r="8.45"/>
<circle cx="319.5" cy="677.7" r="8.45"/>
<circle cx="323.7" cy="656.6" r="8.45"/>
<circle cx="328.0" cy="634.7" r="8.45"/>
<circle cx="332.3" cy="614.0" r="8.45"/>
<circle cx="336.6" cy="593.4" r="8.45"/>
<circle cx="340.8" cy="574.6" r="8.45"/>
<circle cx="345.1" cy="556.4" r="8.45"/>
<circle cx="349.4" cy="539.3" r="8.45"/>
<circle cx="353.7" cy="522.8" r="8.45"/>
<circle cx="358.0" cy="506.8" r="8.45"/>
<circle cx="362.2" cy="491.3" r="8.45"/>
<circle cx="366.5" cy="476.4" r="8.45"/>
<circle cx="370.8" cy="463.3" r="8.45"/>
<circle cx="375.1" cy="449.3" r="8.45"/>
<circle cx="379.3" cy="437.2" r="8.45"/>
<circle cx="383.6" cy="425.0" r="8.45"/>
<circle cx="387.9" cy="413.3" r="8.45"/>
<circle cx="392.2" cy="402.2" r="8.45"/>
<circle cx="396.5" cy="391.0" r="8.45"/>
<circle cx="400.7" cy="380.5" r="8.45"/>
<circle cx="405.0" cy="371.1" r="8.45"/>
<circle cx="409.3" cy="362.3" r="8.45"/>
<circle cx="413.6" cy="353.1" r="8.45"/>
<circle cx="417.8" cy="344.9" r="8.45"/>
<circle cx="422.1" cy="336.8" r="8.45"/>
<circle cx="426.4" cy="329.4" r="8.45"/>
<circle cx="430.7" cy="323.1" r="8.45"/>
<circle cx="435.0" cy="315.5" r="8.45"/>
<circle cx="439.2" cy="308.4" r="8.45"/>
<circle cx="443.5" cy="301.2" r="8.45"/>
<circle cx="447.8" cy="295.5" r="8.45"/>
<circle cx="452.1" cy="289.0" r="8.45"/>
<circle cx="456.3" cy="283.9" r="8.45"/>
<circle cx="460.6" cy="279.4" r="8.45"/>
<circle cx="464.9" cy="273.7" r="8.45"/>
<circle cx="469.2" cy="268.6" r="8.45"/>
<circle cx="473.5" cy="264.0" r="8.45"/>
<circle cx="477.7" cy="260.5" r="8.45"/>
<circle cx="482.0" cy="255.2" r="8.45"/>
<circle cx="486.3" cy="251.6" r="8.45"/>
<circle cx="490.6" cy="248.7" r="8.45"/>
<circle cx="494.8" cy="244.3" r="8.45"/>
<circle cx="499.1" cy="241.9" r="8.45"/>
<circle cx="503.4" cy="238.4" r="8.45"/>
<circle cx="507.7" cy="233.9" r="8.45"/>
<circle cx="512.0" cy="230.4" r="8.45"/>
<circle cx="516.2" cy="228.4" r="8.45"/>
<circle cx="520.5" cy="226.0" r="8.45"/>
<circle cx="524.8" cy="222.8" r="8.45"/>
<circle cx="529.1" cy="221.4" r="8.45"/>
<circle cx="533.3" cy="220.1" r="8.45"/>
<circle cx="537.6" cy="219.0" r="8.45"/>
<circle cx="541.9" cy="215.3" r="8.45"/>
<circle cx="546.2" cy="214.9" r="8.45"/>
<circle cx="550.4" cy="213.2" r="8.45"/>
<circle cx="554.7" cy="209.9" r="8.45"/>
<circle cx="559.0" cy="207.6" r="8.45"/>
<circle cx="563.3" cy="206.4" r="8.45"/>
<circle cx="567.6" cy="203.8" r="8.45"/>
<circle cx="571.8" cy="202.9" r="8.45"/>
<circle cx="576.1" cy="201.4" r="8.45"/>
<circle cx="580.4" cy="200.1" r="8.45"/>
<circle cx="584.7" cy="199.6" r="8.45"/>
<circle cx="588.9" cy="198.1" r="8.45"/>
<circle cx="593.2" cy="195.9" r="8.45"/>
<circle cx="597.5" cy="196.7" r="8.45"/>
<circle cx="601.8" cy="195.1" r="8.45"/>
<circle cx="606.1" cy="194.1" r="8.45"/>
<circle cx="610.3" cy="193.9" r="8.45"/>
<circle cx="614.6" cy="192.8" r="8.45"/>
<circle cx="618.9" cy="192.9" r="8.45"/>
<circle cx="623.2" cy="191.4" r="8.45"/>
<circle cx="627.4" cy="190.2" r="8.45"/>
<circle cx="631.7" cy="188.9" r="8.45"/>
<circle cx="636.0" cy="188.3" r="8.45"/>
<circle cx="640.3" cy="188.6" r="8.45"/>
<circle cx="644.6" cy="188.5" r="8.45"/>
<circle cx="648.8" cy="186.5" r="8.45"/>
<circle cx="653.1" cy="186.6" r="8.45"/>
<circle cx="657.4" cy="187.8" r="8.45"/>
<circle cx="661.7" cy="186.4" r="8.45"/>
<circle cx="665.9" cy="186.2" r="8.45"/>
<circle cx="670.2" cy="185.7" r="8.45"/>
<circle cx="674.5" cy="185.9" r="8.45"/>
<circle cx="678.8" cy="184.7" r="8.45"/>
<circle cx="683.1" cy="184.4" r="8.45"/>
<circle cx="687.3" cy="183.7" r="8.45"/>
<circle cx="691.6" cy="182.6" r="8.45"/>
<circle cx="695.9" cy="182.7" r="8.45"/>
<circle cx="700.2" cy="183.0" r="8.45"/>
<circle cx="704.4" cy="182.8" r="8.45"/>
<circle cx="708.7" cy="181.8" r="8.45"/>
<circle cx="713.0" cy="180.4" r="8.45"/>
<circle cx="717.3" cy="180.1" r="8.45"/>
<circle cx="721.6" cy="180.8" r="8.45"/>
<circle cx="725.8" cy="179.7" r="8.45"/>
<circle cx="730.1" cy="179.9" r="8.45"/>
<circle cx="734.4" cy="180.2" r="8.45"/>
<circle cx="738.7" cy="179.3" r="8.45"/>
<circle cx="742.9" cy="179.1" r="8.45"/>
<circle cx="747.2" cy="179.2" r="8.45"/>
<circle cx="751.5" cy="178.3" r="8.45"/>
<circle cx="755.8" cy="177.5" r="8.45"/>
<circle cx="760.1" cy="176.6" r="8.45"/>
<circle cx="764.3" cy="177.6" r="8.45"/>
<circle cx="768.6" cy="176.8" r="8.45"/>
<circle cx="772.9" cy="176.7" r="8.45"/>
<circle cx="777.2" cy="176.5" r="8.45"/>
<circle cx="781.4" cy="176.8" r="8.45"/>
<circle cx="785.7" cy="175.1" r="8.45"/>
<circle cx="790.0" cy="174.7" r="8.45"/>
<circle cx="794.3" cy="174.3" r="8.45"/>
<circle cx="798.6" cy="174.8" r="8.45"/>
<circle cx="802.8" cy="174.1" r="8.45"/>
<circle cx="807.1" cy="174.7" r="8.45"/>
<circle cx="811.4" cy="174.4" r="8.45"/>
<circle cx="815.7" cy="175.2" r="8.45"/>
<circle cx="819.9" cy="175.0" r="8.45"/>
<circle cx="824.2" cy="175.2" r="8.45"/>
<circle cx="828.5" cy="175.5" r="8.45"/>
<circle cx="832.8" cy="175.1" r="8.45"/>
<circle cx="837.1" cy="175.3" r="8.45"/>
<circle cx="841.3" cy="175.3" r="8.45"/>
<circle cx="845.6" cy="174.8" r="8.45"/>
<circle cx="849.9" cy="174.9" r="8.45"/>
<circle cx="854.2" cy="173.4" r="8.45"/>
<circle cx="858.4" cy="173.4" r="8.45"/>
<circle cx="862.7" cy="173.6" r="8.45"/>
<circle cx="867.0" cy="173.7" r="8.45"/>
<circle cx="871.3" cy="174.6" r="8.45"/>
<circle cx="875.6" cy="174.0" r="8.45"/>
<circle cx="879.8" cy="175.1" r="8.45"/>
<circle cx="884.1" cy="174.7" r="8.45"/>
<circle cx="888.4" cy="174.5" r="8.45"/>
<circle cx="892.7" cy="174.3" r="8.45"/>
<circle cx="896.9" cy="173.4" r="8.45"/>
<circle cx="901.2" cy="174.2" r="8.45"/>
<circle cx="905.5" cy="172.3" r="8.45"/>
<circle cx="909.8" cy="173.9" r="8.45"/>
<circle cx="914.1" cy="173.2" r="8.45"/>
<circle cx="918.3" cy="174.7" r="8.45"/>
<circle cx="922.6" cy="173.5" r="8.45"/>
<circle cx="926.9" cy="174.6" r="8.45"/>
<circle cx="931.2" cy="173.7" r="8.45"/>
<circle cx="935.4" cy="173.4" r="8.45"/>
<circle cx="939.7" cy="172.6" r="8.45"/>
<circle cx="944.0" cy="172.4" r="8.45"/>
<circle cx="948.3" cy="172.4" r="8.45"/>
<circle cx="952.6" cy="172.8" r="8.45"/>
<circle cx="956.8" cy="171.9" r="8.45"/>
<circle cx="961.1" cy="173.5" r="8.45"/>
<circle cx="965.4" cy="173.3" r="8.45"/>
<circle cx="969.7" cy="173.8" r="8.45"/>
<circle cx="973.9" cy="173.6" r="8.45"/>
<circle cx="978.2" cy="174.4" r="8.45"/>
<circle cx="982.5" cy="174.3" r="8.45"/>
<circle cx="986.8" cy="174.1" r="8.45"/>
<circle cx="991.1" cy="174.8" r="8.45"/>
<circle cx="995.3" cy="174.2" r="8.45"/>
<circle cx="999.6" cy="174.6" r="8.45"/>
<circle cx="1003.9" cy="173.3" r="8.45"/>
<circle cx="1008.2" cy="174.1" r="8.45"/>
<circle cx="1012.4" cy="173.2" r="8.45"/>
<circle cx="1016.7" cy="174.1" r="8.45"/>
<circle cx="1021.0" cy="174.5" r="8.45"/>
<circle cx="1025.3" cy="174.0" r="8.45"/>
<circle cx="1029.6" cy="173.8" r="8.45"/>
<circle cx="1033.8" cy="173.5" r="8.45"/>
<circle cx="1038.1" cy="173.5" r="8.45"/>
<circle cx="1042.4" cy="173.7" r="8.45"/>
<circle cx="1046.7" cy="174.7" r="8.45"/>
<circle cx="1050.9" cy="173.6" r="8.45"/>
<circle cx="1055.2" cy="174.1" r="8.45"/>
<circle cx="1059.5" cy="173.8" r="8.45"/>
<circle cx="1063.8" cy="173.2" r="8.45"/>
<circle cx="1068.1" cy="174.1" r="8.45"/>
<circle cx="1072.3" cy="172.7" r="8.45"/>
<circle cx="1076.6" cy="172.0" r="8.45"/>
<circle cx="1080.9" cy="173.1" r="8.45"/>
<circle cx="1085.2" cy="173.6" r="8.45"/>
<circle cx="1089.4" cy="172.5" r="8.45"/>
<circle cx="1093.7" cy="173.1" r="8.45"/>
<circle cx="1098.0" cy="172.4" r="8.45"/>
<circle cx="1102.3" cy="172.0" r="8.45"/>
<circle cx="1106.6" cy="173.4" r="8.45"/>
<circle cx="1110.8" cy="172.3" r="8.45"/>
<circle cx="1115.1" cy="173.2" r="8.45"/>
<circle cx="1119.4" cy="172.8" r="8.45"/>
<circle cx="1123.7" cy="172.0" r="8.45"/>
<circle cx="1127.9" cy="172.8" r="8.45"/>
<circle cx="1132.2" cy="172.2" r="8.45"/>
<circle cx="1136.5" cy="171.6" r="8.45"/>
<circle cx="1140.8" cy="170.9" r="8.45"/>
<circle cx="1145.1" cy="170.8" r="8.45"/>
<circle cx="1149.3" cy="170.7" r="8.45"/>
<circle cx="1153.6" cy="171.3" r="8.45"/>
<circle cx="1157.9" cy="171.7" r="8.45"/>
<circle cx="1162.2" cy="171.2" r="8.45"/>
<circle cx="1166.4" cy="172.0" r="8.45"/>
<circle cx="1170.7" cy="172.2" r="8.45"/>
<circle cx="1175.0" cy="171.5" r="8.45"/>
<circle cx="1179.3" cy="172.4" r="8.45"/>
<circle cx="1183.5" cy="172.7" r="8.45"/>
<circle cx="1187.8" cy="171.8" r="8.45"/>
<circle cx="1192.1" cy="172.5" r="8.45"/>
<circle cx="1196.4" cy="173.7" r="8.45"/>
<circle cx="1200.7" cy="172.9" r="8.45"/>
<circle cx="1204.9" cy="171.6" r="8.45"/>
<circle cx="1209.2" cy="171.2" r="8.45"/>
<circle cx="1213.5" cy="173.2" r="8.45"/>
<circle cx="1217.8" cy="173.0" r="8.45"/>
<circle cx="1222.0" cy="173.3" r="8.45"/>
<circle cx="1226.3" cy="173.8" r="8.45"/>
<circle cx="1230.6" cy="175.1" r="8.45"/>
<circle cx="1234.9" cy="173.7" r="8.45"/>
<circle cx="1239.2" cy="174.3" r="8.45"/>
<circle cx="1243.4" cy="174.7" r="8.45"/>
<circle cx="1247.7" cy="175.5" r="8.45"/>
<circle cx="1252.0" cy="175.0" r="8.45"/>
<circle cx="1256.3" cy="174.6" r="8.45"/>
<circle cx="1260.5" cy="174.5" r="8.45"/>
<circle cx="1264.8" cy="174.1" r="8.45"/>
<circle cx="1269.1" cy="174.2" r="8.45"/>
<circle cx="1273.4" cy="173.3" r="8.45"/>
<circle cx="1277.7" cy="173.4" r="8.45"/>
<circle cx="1281.9" cy="174.3" r="8.45"/>
<circle cx="1286.2" cy="173.8" r="8.45"/>
<circle cx="1290.5" cy="173.2" r="8.45"/>
<circle cx="1294.8" cy="173.6" r="8.45"/>
<circle cx="1299.0" cy="172.5" r="8.45"/>
<circle cx="1303.3" cy="173.4" r="8.45"/>
<circle cx="1307.6" cy="172.8" r="8.45"/>
<circle cx="1311.9" cy="172.3" r="8.45"/>
<circle cx="1316.2" cy="172.9" r="8.45"/>
<circle cx="1320.4" cy="171.3" r="8.45"/>
<circle cx="1324.7" cy="172.0" r="8.45"/>
<circle cx="1329.0" cy="172.2" r="8.45"/>
<circle cx="1333.3" cy="172.3" r="8.45"/>
<circle cx="1337.5" cy="173.0" r="8.45"/>
<circle cx="1341.8" cy="172.8" r="8.45"/>
<circle cx="1346.1" cy="171.2" r="8.45"/>
<circle cx="1350.4" cy="172.0" r="8.45"/>
<circle cx="1354.7" cy="172.1" r="8.45"/>
<circle cx="1358.9" cy="171.9" r="8.45"/>
<circle cx="1363.2" cy="171.8" r="8.45"/>
<circle cx="1367.5" cy="172.8" r="8.45"/>
<circle cx="1371.8" cy="172.7" r="8.45"/>
<circle cx="1376.0" cy="172.5" r="8.45"/>
<circle cx="1380.3" cy="172.1" r="8.45"/>
<circle cx="1384.6" cy="172.6" r="8.45"/>
<circle cx="1388.9" cy="171.8" r="8.45"/>
<circle cx="1393.2" cy="173.0" r="8.45"/>
<circle cx="1397.4" cy="173.2" r="8.45"/>
<circle cx="1401.7" cy="173.7" r="8.45"/>
<circle cx="1406.0" cy="172.9" r="8.45"/>
<circle cx="1410.3" cy="172.6" r="8.45"/>
<circle cx="1414.5" cy="173.2" r="8.45"/>
<circle cx="1418.8" cy="173.4" r="8.45"/>
<circle cx="1423.1" cy="174.2" r="8.45"/>
<circle cx="1427.4" cy="174.2" r="8.45"/>
<circle cx="1431.7" cy="174.3" r="8.45"/>
<circle cx="1435.9" cy="174.2" r="8.45"/>
<circle cx="1440.2" cy="173.6" r="8.45"/>
<circle cx="1444.5" cy="173.7" r="8.45"/>
<circle cx="1448.8" cy="173.1" r="8.45"/>
<circle cx="1453.0" cy="172.6" r="8.45"/>
<circle cx="1457.3" cy="173.3" r="8.45"/>
<circle cx="1461.6" cy="172.1" r="8.45"/>
<circle cx="1465.9" cy="172.8" r="8.45"/>
<circle cx="1470.2" cy="173.7" r="8.45"/>
<circle cx="1474.4" cy="173.3" r="8.45"/>
<circle cx="1478.7" cy="173.0" r="8.45"/>
<circle cx="1483.0" cy="173.8" r="8.45"/>
<circle cx="1487.3" cy="171.5" r="8.45"/>
<circle cx="1491.5" cy="172.6" r="8.45"/>
<circle cx="1495.8" cy="172.0" r="8.45"/>
<circle cx="1500.1" cy="173.1" r="8.45"/>
<circle cx="1504.4" cy="172.4" r="8.45"/>
<circle cx="1508.7" cy="172.4" r="8.45"/>
<circle cx="1512.9" cy="173.0" r="8.45"/>
<circle cx="1517.2" cy="172.8" r="8.45"/>
<circle cx="1521.5" cy="173.2" r="8.45"/>
<circle cx="1525.8" cy="173.2" r="8.45"/>
<circle cx="1530.0" cy="174.2" r="8.45"/>
<circle cx="1534.3" cy="173.1" r="8.45"/>
<circle cx="1538.6" cy="173.5" r="8.45"/>
<circle cx="1542.9" cy="173.7" r="8.45"/>
<circle cx="1547.2" cy="174.5" r="8.45"/>
<circle cx="1551.4" cy="173.5" r="8.45"/>
<circle cx="1555.7" cy="173.6" r="8.45"/>
<circle cx="1560.0" cy="172.2" r="8.45"/>
<circle cx="1564.3" cy="174.3" r="8.45"/>
<circle cx="1568.5" cy="172.9" r="8.45"/>
<circle cx="1572.8" cy="172.9" r="8.45"/>
<circle cx="1577.1" cy="173.1" r="8.45"/>
<circle cx="1581.4" cy="172.9" r="8.45"/>
<circle cx="1585.7" cy="172.3" r="8.45"/>
<circle cx="1589.9" cy="173.0" r="8.45"/>
<circle cx="1594.2" cy="171.3" r="8.45"/>
<circle cx="1598.5" cy="172.2" r="8.45"/>
<circle cx="1602.8" cy="172.6" r="8.45"/>
<circle cx="1607.0" cy="172.6" r="8.45"/>
<circle cx="1611.3" cy="174.5" r="8.45"/>
<circle cx="1615.6" cy="174.0" r="8.45"/>
<circle cx="1619.9" cy="174.2" r="8.45"/>
<circle cx="1624.2" cy="174.6" r="8.45"/>
<circle cx="1628.4" cy="173.7" r="8.45"/>
<circle cx="1632.7" cy="173.4" r="8.45"/>
<circle cx="1637.0" cy="174.4" r="8.45"/>
<circle cx="1641.3" cy="174.6" r="8.45"/>
<circle cx="1645.5" cy="174.2" r="8.45"/>
<circle cx="1649.8" cy="174.6" r="8.45"/>
<circle cx="1654.1" cy="174.3" r="8.45"/>
<circle cx="1658.4" cy="174.1" r="8.45"/>
<circle cx="1662.7" cy="174.5" r="8.45"/>
<circle cx="1666.9" cy="174.6" r="8.45"/>
<circle cx="1671.2" cy="174.2" r="8.45"/>
<circle cx="1675.5" cy="174.1" r="8.45"/>
<circle cx="1679.8" cy="173.6" r="8.45"/>
<circle cx="1684.0" cy="174.7" r="8.45"/>
<circle cx="1688.3" cy="174.6" r="8.45"/>
<circle cx="1692.6" cy="174.2" r="8.45"/>
<circle cx="1696.9" cy="173.8" r="8.45"/>
<circle cx="1701.2" cy="174.9" r="8.45"/>
<circle cx="1705.4" cy="173.5" r="8.45"/>
<circle cx="1709.7" cy="173.4" r="8.45"/>
<circle cx="1714.0" cy="174.7" r="8.45"/>
<circle cx="1718.3" cy="173.6" r="8.45"/>
<circle cx="1722.5" cy="175.4" r="8.45"/>
<circle cx="1726.8" cy="174.3" r="8.45"/>
<circle cx="1731.1" cy="175.0" r="8.45"/>
<circle cx="1735.4" cy="173.6" r="8.45"/>
<circle cx="1739.7" cy="173.5" r="8.45"/>
<circle cx="1743.9" cy="173.5" r="8.45"/>
<circle cx="1748.2" cy="173.9" r="8.45"/>
<circle cx="1752.5" cy="174.0" r="8.45"/>
<circle cx="1756.8" cy="173.1" r="8.45"/>
<circle cx="1761.0" cy="173.7" r="8.45"/>
<circle cx="1765.3" cy="173.2" r="8.45"/>
<circle cx="1769.6" cy="174.8" r="8.45"/>
<circle cx="1773.9" cy="173.9" r="8.45"/>
<circle cx="1778.1" cy="174.1" r="8.45"/>
<circle cx="1782.4" cy="175.7" r="8.45"/>
<circle cx="1786.7" cy="175.1" r="8.45"/>
<circle cx="1791.0" cy="174.8" r="8.45"/>
<circle cx="1795.3" cy="174.7" r="8.45"/>
<circle cx="1799.5" cy="175.3" r="8.45"/>
<circle cx="1803.8" cy="174.6" r="8.45"/>
<circle cx="1808.1" cy="175.5" r="8.45"/>
<circle cx="1812.4" cy="175.2" r="8.45"/>
<circle cx="1816.6" cy="176.3" r="8.45"/>
<circle cx="1820.9" cy="176.1" r="8.45"/>
<circle cx="1825.2" cy="175.1" r="8.45"/>
<circle cx="1829.5" cy="176.4" r="8.45"/>
<circle cx="1833.8" cy="175.5" r="8.45"/>
<circle cx="1838.0" cy="174.5" r="8.45"/>
<circle cx="1842.3" cy="174.6" r="8.45"/>
<circle cx="1846.6" cy="175.5" r="8.45"/>
<circle cx="1850.9" cy="173.2" r="8.45"/>
<circle cx="1855.1" cy="174.3" r="8.45"/>
<circle cx="1859.4" cy="173.3" r="8.45"/>
<circle cx="1863.7" cy="173.1" r="8.45"/>
<circle cx="1868.0" cy="173.7" r="8.45"/>
<circle cx="1872.3" cy="173.1" r="8.45"/>
<circle cx="1876.5" cy="174.7" r="8.45"/>
<circle cx="1880.8" cy="172.7" r="8.45"/>
<circle cx="1885.1" cy="172.3" r="8.45"/>
<circle cx="1889.4" cy="172.2" r="8.45"/>
<circle cx="1893.6" cy="171.7" r="8.45"/>
<circle cx="1897.9" cy="171.1" r="8.45"/>
<circle cx="1902.2" cy="170.9" r="8.45"/>
<circle cx="1906.5" cy="171.7" r="8.45"/>
<circle cx="1910.8" cy="170.9" r="8.45"/>
<circle cx="1915.0" cy="170.8" r="8.45"/>
<circle cx="1919.3" cy="171.5" r="8.45"/>
<circle cx="1923.6" cy="171.4" r="8.45"/>
<circle cx="1927.9" cy="173.0" r="8.45"/>
<circle cx="1932.1" cy="172.6" r="8.45"/>
<circle cx="1936.4" cy="171.7" r="8.45"/>
<circle cx="1940.7" cy="173.0" r="8.45"/>
<circle cx="1945.0" cy="172.0" r="8.45"/>
<circle cx="1949.3" cy="171.8" r="8.45"/>
<circle cx="1953.5" cy="172.9" r="8.45"/>
<circle cx="1957.8" cy="172.8" r="8.45"/>
<circle cx="1962.1" cy="172.1" r="8.45"/>
<circle cx="1966.4" cy="171.7" r="8.45"/>
<circle cx="1970.6" cy="171.4" r="8.45"/>
<circle cx="1974.9" cy="172.2" r="8.45"/>
<circle cx="1979.2" cy="172.1" r="8.45"/>
<circle cx="1983.5" cy="172.6" r="8.45"/>
<circle cx="1987.8" cy="171.8" r="8.45"/>
<circle cx="1992.0" cy="172.3" r="8.45"/>
<circle cx="1996.3" cy="171.4" r="8.45"/>
<circle cx="2000.6" cy="171.6" r="8.45"/>
<circle cx="2004.9" cy="173.1" r="8.45"/>
<circle cx="2009.1" cy="172.2" r="8.45"/>
<circle cx="2013.4" cy="173.0" r="8.45"/>
<circle cx="2017.7" cy="171.9" r="8.45"/>
<circle cx="2022.0" cy="173.0" r="8.45"/>
<circle cx="2026.3" cy="171.7" r="8.45"/>
<circle cx="2030.5" cy="171.8" r="8.45"/>
<circle cx="2034.8" cy="171.2" r="8.45"/>
<circle cx="2039.1" cy="172.1" r="8.45"/>
<circle cx="2043.4" cy="172.2" r="8.45"/>
<circle cx="2047.6" cy="171.3" r="8.45"/>
<circle cx="2051.9" cy="172.6" r="8.45"/>
<circle cx="2056.2" cy="171.9" r="8.45"/>
<circle cx="2060.5" cy="172.0" r="8.45"/>
<circle cx="2064.8" cy="171.9" r="8.45"/>
</g>
<g fill="#ff0000">
<circle cx="233.9" cy="1429.0" r="8.45"/>
<circle cx="240.6" cy="1344.9" r="8.45"/>
<circle cx="247.3" cy="1266.3" r="8.45"/>
<circle cx="254.1" cy="1192.8" r="8.45"/>
<circle cx="260.8" cy="1123.9" r="8.45"/>
<circle cx="267.5" cy="1059.2" r="8.45"/>
<circle cx="274.2" cy="998.5" r="8.45"/>
<circle cx="281.0" cy="940.1" r="8.45"/>
<circle cx="287.7" cy="885.1" r="8.45"/>
<circle cx="294.4" cy="836.3" r="8.45"/>
<circle cx="301.1" cy="793.0" r="8.45"/>
<circle cx="307.8" cy="753.1" r="8.45"/>
<circle cx="314.6" cy="712.3" r="8.45"/>
<circle cx="321.3" cy="674.1" r="8.45"/>
<circle cx="328.0" cy="636.7" r="8.45"/>
<circle cx="334.7" cy="605.8" r="8.45"/>
<circle cx="341.5" cy="575.1" r="8.45"/>
<circle cx="348.2" cy="549.4" r="8.45"/>
<circle cx="354.9" cy="523.7" r="8.45"/>
<circle cx="361.6" cy="500.3" r="8.45"/>
<circle cx="368.3" cy="477.8" r="8.45"/>
<circle cx="375.1" cy="457.7" r="8.45"/>
<circle cx="381.8" cy="439.7" r="8.45"/>
<circle cx="388.5" cy="420.7" r="8.45"/>
<circle cx="395.2" cy="404.1" r="8.45"/>
<circle cx="402.0" cy="389.7" r="8.45"/>
<circle cx="408.7" cy="375.0" r="8.45"/>
<circle cx="415.4" cy="360.4" r="8.45"/>
<circle cx="422.1" cy="344.8" r="8.45"/>
<circle cx="428.8" cy="332.3" r="8.45"/>
<circle cx="435.6" cy="322.0" r="8.45"/>
<circle cx="442.3" cy="311.9" r="8.45"/>
<circle cx="449.0" cy="303.0" r="8.45"/>
<circle cx="455.7" cy="295.9" r="8.45"/>
<circle cx="462.5" cy="288.2" r="8.45"/>
<circle cx="469.2" cy="281.4" r="8.45"/>
<circle cx="475.9" cy="274.9" r="8.45"/>
<circle cx="482.6" cy="268.6" r="8.45"/>
<circle cx="489.3" cy="262.3" r="8.45"/>
<circle cx="496.1" cy="255.0" r="8.45"/>
<circle cx="502.8" cy="248.5" r="8.45"/>
<circle cx="509.5" cy="244.9" r="8.45"/>
<circle cx="516.2" cy="238.5" r="8.45"/>
<circle cx="523.0" cy="234.7" r="8.45"/>
<circle cx="529.7" cy="230.2" r="8.45"/>
<circle cx="536.4" cy="227.2" r="8.45"/>
<circle cx="543.1" cy="224.1" r="8.45"/>
<circle cx="549.8" cy="219.4" r="8.45"/>
<circle cx="556.6" cy="216.9" r="8.45"/>
<circle cx="563.3" cy="214.3" r="8.45"/>
<circle cx="570.0" cy="211.3" r="8.45"/>
<circle cx="576.7" cy="209.5" r="8.45"/>
<circle cx="583.4" cy="205.6" r="8.45"/>
<circle cx="590.2" cy="202.1" r="8.45"/>
<circle cx="596.9" cy="199.8" r="8.45"/>
<circle cx="603.6" cy="198.2" r="8.45"/>
<circle cx="610.3" cy="196.6" r="8.45"/>
<circle cx="617.1" cy="194.9" r="8.45"/>
<circle cx="623.8" cy="193.4" r="8.45"/>
<circle cx="630.5" cy="192.2" r="8.45"/>
<circle cx="637.2" cy="191.5" r="8.45"/>
<circle cx="643.9" cy="190.9" r="8.45"/>
<circle cx="650.7" cy="186.5" r="8.45"/>
<circle cx="657.4" cy="187.7" r="8.45"/>
<circle cx="664.1" cy="186.8" r="8.45"/>
<circle cx="670.8" cy="186.3" r="8.45"/>
<circle cx="677.6" cy="186.5" r="8.45"/>
<circle cx="684.3" cy="185.4" r="8.45"/>
<circle cx="691.0" cy="185.7" r="8.45"/>
<circle cx="697.7" cy="184.4" r="8.45"/>
<circle cx="704.4" cy="184.4" r="8.45"/>
<circle cx="711.2" cy="183.2" r="8.45"/>
<circle cx="717.9" cy="182.2" r="8.45"/>
<circle cx="724.6" cy="181.0" r="8.45"/>
<circle cx="731.3" cy="181.3" r="8.45"/>
<circle cx="738.1" cy="181.3" r="8.45"/>
<circle cx="744.8" cy="182.0" r="8.45"/>
<circle cx="751.5" cy="180.5" r="8.45"/>
<circle cx="758.2" cy="179.5" r="8.45"/>
<circle cx="764.9" cy="179.8" r="8.45"/>
<circle cx="771.7" cy="179.8" r="8.45"/>
<circle cx="778.4" cy="179.7" r="8.45"/>
<circle cx="785.1" cy="179.7" r="8.45"/>
<circle cx="791.8" cy="180.5" r="8.45"/>
<circle cx="798.6" cy="179.9" r="8.45"/>
<circle cx="805.3" cy="179.0" r="8.45"/>
<circle cx="812.0" cy="178.9" r="8.45"/>
<circle cx="818.7" cy="178.6" r="8.45"/>
<circle cx="825.4" cy="177.6" r="8.45"/>
<circle cx="832.2" cy="178.8" r="8.45"/>
<circle cx="838.9" cy="176.6" r="8.45"/>
<circle cx="845.6" cy="178.5" r="8.45"/>
<circle cx="852.3" cy="178.7" r="8.45"/>
<circle cx="859.1" cy="177.5" r="8.45"/>
<circle cx="865.8" cy="178.0" r="8.45"/>
<circle cx="872.5" cy="177.9" r="8.45"/>
<circle cx="879.2" cy="176.6" r="8.45"/>
<circle cx="885.9" cy="177.9" r="8.45"/>
<circle cx="892.7" cy="176.2" r="8.45"/>
<circle cx="899.4" cy="175.1" r="8.45"/>
<circle cx="906.1" cy="177.2" r="8.45"/>
<circle cx="912.8" cy="177.5" r="8.45"/>
<circle cx="919.6" cy="177.9" r="8.45"/>
<circle cx="926.3" cy="177.2" r="8.45"/>
<circle cx="933.0" cy="177.2" r="8.45"/>
<circle cx="939.7" cy="178.1" r="8.45"/>
<circle cx="946.4" cy="178.7" r="8.45"/>
<circle cx="953.2" cy="177.6" r="8.45"/>
<circle cx="959.9" cy="177.7" r="8.45"/>
<circle cx="966.6" cy="178.9" r="8.45"/>
<circle cx="973.3" cy="176.3" r="8.45"/>
<circle cx="980.1" cy="177.8" r="8.45"/>
<circle cx="986.8" cy="175.9" r="8.45"/>
<circle cx="993.5" cy="177.9" r="8.45"/>
<circle cx="1000.2" cy="175.6" r="8.45"/>
<circle cx="1006.9" cy="176.5" r="8.45"/>
<circle cx="1013.7" cy="174.8" r="8.45"/>
<circle cx="1020.4" cy="175.0" r="8.45"/>
<circle cx="1027.1" cy="176.5" r="8.45"/>
<circle cx="1033.8" cy="176.3" r="8.45"/>
<circle cx="1040.6" cy="175.5" r="8.45"/>
<circle cx="1047.3" cy="176.0" r="8.45"/>
<circle cx="1054.0" cy="174.3" r="8.45"/>
<circle cx="1060.7" cy="174.8" r="8.45"/>
<circle cx="1067.4" cy="175.0" r="8.45"/>
<circle cx="1074.2" cy="175.6" r="8.45"/>
<circle cx="1080.9" cy="174.7" r="8.45"/>
<circle cx="1087.6" cy="175.5" r="8.45"/>
<circle cx="1094.3" cy="174.5" r="8.45"/>
<circle cx="1101.1" cy="175.6" r="8.45"/>
<circle cx="1107.8" cy="174.2" r="8.45"/>
<circle cx="1114.5" cy="174.7" r="8.45"/>
<circle cx="1121.2" cy="174.9" r="8.45"/>
<circle cx="1127.9" cy="174.7" r="8.45"/>
<circle cx="1134.7" cy="176.9" r="8.45"/>
<circle cx="1141.4" cy="177.7" r="8.45"/>
<circle cx="1148.1" cy="175.7" r="8.45"/>
<circle cx="1154.8" cy="175.6" r="8.45"/>
<circle cx="1161.5" cy="176.4" r="8.45"/>
<circle cx="1168.3" cy="176.1" r="8.45"/>
<circle cx="1175.0" cy="175.4" r="8.45"/>
<circle cx="1181.7" cy="176.9" r="8.45"/>
<circle cx="1188.4" cy="176.0" r="8.45"/>
<circle cx="1195.2" cy="176.3" r="8.45"/>
<circle cx="1201.9" cy="175.4" r="8.45"/>
<circle cx="1208.6" cy="175.7" r="8.45"/>
<circle cx="1215.3" cy="176.5" r="8.45"/>
<circle cx="1222.0" cy="176.0" r="8.45"/>
<circle cx="1228.8" cy="175.7" r="8.45"/>
<circle cx="1235.5" cy="176.2" r="8.45"/>
<circle cx="1242.2" cy="176.7" r="8.45"/>
<circle cx="1248.9" cy="177.5" r="8.45"/>
<circle cx="1255.7" cy="175.9" r="8.45"/>
<circle cx="1262.4" cy="176.4" r="8.45"/>
<circle cx="1269.1" cy="176.4" r="8.45"/>
<circle cx="1275.8" cy="177.3" r="8.45"/>
<circle cx="1282.5" cy="177.4" r="8.45"/>
<circle cx="1289.3" cy="176.3" r="8.45"/>
<circle cx="1296.0" cy="176.0" r="8.45"/>
<circle cx="1302.7" cy="176.9" r="8.45"/>
<circle cx="1309.4" cy="176.8" r="8.45"/>
<circle cx="1316.2" cy="179.1" r="8.45"/>
<circle cx="1322.9" cy="176.6" r="8.45"/>
<circle cx="1329.6" cy="177.6" r="8.45"/>
<circle cx="1336.3" cy="177.4" r="8.45"/>
<circle cx="1343.0" cy="176.3" r="8.45"/>
<circle cx="1349.8" cy="177.8" r="8.45"/>
<circle cx="1356.5" cy="177.9" r="8.45"/>
<circle cx="1363.2" cy="175.3" r="8.45"/>
<circle cx="1369.9" cy="175.1" r="8.45"/>
<circle cx="1376.7" cy="176.8" r="8.45"/>
<circle cx="1383.4" cy="176.8" r="8.45"/>
<circle cx="1390.1" cy="177.0" r="8.45"/>
<circle cx="1396.8" cy="177.0" r="8.45"/>
<circle cx="1403.5" cy="179.2" r="8.45"/>
<circle cx="1410.3" cy="178.3" r="8.45"/>
<circle cx="1417.0" cy="177.3" r="8.45"/>
<circle cx="1423.7" cy="176.3" r="8.45"/>
<circle cx="1430.4" cy="176.7" r="8.45"/>
<circle cx="1437.2" cy="176.4" r="8.45"/>
<circle cx="1443.9" cy="175.8" r="8.45"/>
<circle cx="1450.6" cy="175.6" r="8.45"/>
<circle cx="1457.3" cy="175.6" r="8.45"/>
<circle cx="1464.0" cy="176.7" r="8.45"/>
<circle cx="1470.8" cy="175.7" r="8.45"/>
<circle cx="1477.5" cy="175.9" r="8.45"/>
<circle cx="1484.2" cy="175.8" r="8.45"/>
<circle cx="1490.9" cy="175.1" r="8.45"/>
<circle cx="1497.7" cy="175.5" r="8.45"/>
<circle cx="1504.4" cy="175.1" r="8.45"/>
<circle cx="1511.1" cy="175.2" r="8.45"/>
<circle cx="1517.8" cy="173.4" r="8.45"/>
<circle cx="1524.5" cy="175.5" r="8.45"/>
<circle cx="1531.3" cy="175.3" r="8.45"/>
<circle cx="1538.0" cy="176.1" r="8.45"/>
<circle cx="1544.7" cy="175.7" r="8.45"/>
<circle cx="1551.4" cy="175.7" r="8.45"/>
<circle cx="1558.2" cy="176.7" r="8.45"/>
<circle cx="1564.9" cy="175.7" r="8.45"/>
<circle cx="1571.6" cy="177.3" r="8.45"/>
<circle cx="1578.3" cy="177.3" r="8.45"/>
<circle cx="1585.0" cy="177.7" r="8.45"/>
<circle cx="1591.8" cy="177.3" r="8.45"/>
<circle cx="1598.5" cy="177.3" r="8.45"/>
<circle cx="1605.2" cy="176.8" r="8.45"/>
<circle cx="1611.9" cy="177.9" r="8.45"/>
<circle cx="1618.7" cy="176.6" r="8.45"/>
<circle cx="1625.4" cy="175.9" r="8.45"/>
<circle cx="1632.1" cy="175.7" r="8.45"/>
<circle cx="1638.8" cy="177.2" r="8.45"/>
<circle cx="1645.5" cy="177.7" r="8.45"/>
<circle cx="1652.3" cy="177.0" r="8.45"/>
<circle cx="1659.0" cy="175.6" r="8.45"/>
<circle cx="1665.7" cy="175.8" r="8.45"/>
<circle cx="1672.4" cy="177.1" r="8.45"/>
<circle cx="1679.2" cy="175.8" r="8.45"/>
<circle cx="1685.9" cy="176.7" r="8.45"/>
<circle cx="1692.6" cy="176.1" r="8.45"/>
<circle cx="1699.3" cy="176.3" r="8.45"/>
<circle cx="1706.0" cy="177.3" r="8.45"/>
<circle cx="1712.8" cy="176.7" r="8.45"/>
<circle cx="1719.5" cy="176.2" r="8.45"/>
<circle cx="1726.2" cy="175.8" r="8.45"/>
<circle cx="1732.9" cy="177.5" r="8.45"/>
<circle cx="1739.7" cy="176.7" r="8.45"/>
<circle cx="1746.4" cy="176.4" r="8.45"/>
<circle cx="1753.1" cy="176.5" r="8.45"/>
<circle cx="1759.8" cy="175.9" r="8.45"/>
<circle cx="1766.5" cy="175.5" r="8.45"/>
<circle cx="1773.3" cy="174.7" r="8.45"/>
<circle cx="1780.0" cy="173.8" r="8.45"/>
<circle cx="1786.7" cy="176.1" r="8.45"/>
<circle cx="1793.4" cy="174.4" r="8.45"/>
<circle cx="1800.1" cy="176.0" r="8.45"/>
<circle cx="1806.9" cy="174.5" r="8.45"/>
<circle cx="1813.6" cy="174.9" r="8.45"/>
<circle cx="1820.3" cy="174.9" r="8.45"/>
<circle cx="1827.0" cy="175.1" r="8.45"/>
<circle cx="1833.8" cy="176.4" r="8.45"/>
<circle cx="1840.5" cy="175.5" r="8.45"/>
<circle cx="1847.2" cy="176.1" r="8.45"/>
<circle cx="1853.9" cy="175.6" r="8.45"/>
<circle cx="1860.6" cy="177.0" r="8.45"/>
<circle cx="1867.4" cy="177.1" r="8.45"/>
<circle cx="1874.1" cy="175.5" r="8.45"/>
<circle cx="1880.8" cy="175.1" r="8.45"/>
<circle cx="1887.5" cy="175.8" r="8.45"/>
<circle cx="1894.3" cy="176.1" r="8.45"/>
<circle cx="1901.0" cy="176.6" r="8.45"/>
<circle cx="1907.7" cy="175.8" r="8.45"/>
<circle cx="1914.4" cy="176.6" r="8.45"/>
<circle cx="1921.1" cy="175.3" r="8.45"/>
<circle cx="1927.9" cy="175.5" r="8.45"/>
<circle cx="1934.6" cy="176.5" r="8.45"/>
<circle cx="1941.3" cy="175.0" r="8.45"/>
<circle cx="1948.0" cy="176.7" r="8.45"/>
<circle cx="1954.8" cy="175.3" r="8.45"/>
<circle cx="1961.5" cy="174.4" r="8.45"/>
<circle cx="1968.2" cy="175.4" r="8.45"/>
<circle cx="1974.9" cy="177.2" r="8.45"/>
<circle cx="1981.6" cy="177.3" r="8.45"/>
<circle cx="1988.4" cy="175.5" r="8.45"/>
<circle cx="1995.1" cy="177.7" r="8.45"/>
<circle cx="2001.8" cy="175.5" r="8.45"/>
<circle cx="2008.5" cy="176.5" r="8.45"/>
<circle cx="2015.3" cy="176.2" r="8.45"/>
<circle cx="2022.0" cy="174.3" r="8.45"/>
<circle cx="2028.7" cy="175.8" r="8.45"/>
<circle cx="2035.4" cy="176.7" r="8.45"/>
<circle cx="2042.1" cy="175.2" r="8.45"/>
<circle cx="2048.9" cy="173.3" r="8.45"/>
<circle cx="2055.6" cy="175.1" r="8.45"/>
<circle cx="2062.3" cy="174.0" r="8.45"/>
</g>
<line x1="233.90" y1="169.04" x2="2087.20" y2="169.04" stroke="#000" stroke-width="4.17" stroke-dasharray="24.64 24.64"/>
</g>
<rect x="233.90" y="53.80" width="1833.30" height="1375.20" fill="none" stroke="#000" stroke-width="4.17"/>
<path d="M233.90 1429.00v-16.30M233.90 53.80v16.30M539.45 1429.00v-16.30M539.45 53.80v16.30M845.00 1429.00v-16.30M845.00 53.80v16.30M1150.55 1429.00v-16.30M1150.55 53.80v16.30M1456.10 1429.00v-16.30M1456.10 53.80v16.30M1761.65 1429.00v-16.30M1761.65 53.80v16.30M2067.20 1429.00v-16.30M2067.20 53.80v16.30M233.90 1429.00h16.30M2067.20 1429.00h-16.30M233.90 1153.96h16.30M2067.20 1153.96h-16.30M233.90 878.92h16.30M2067.20 878.92h-16.30M233.90 603.88h16.30M2067.20 603.88h-16.30M233.90 328.84h16.30M2067.20 328.84h-16.30M233.90 53.80h16.30M2067.20 53.80h-16.30" stroke="#000" stroke-width="2.20" fill="none"/>
<text class="tick" x="233.90" y="1508.5" text-anchor="middle">0</text>
<text class="tick" x="539.45" y="1508.5" text-anchor="middle">500</text>
<text class="tick" x="845.00" y="1508.5" text-anchor="middle">1000</text>
<text class="tick" x="1150.55" y="1508.5" text-anchor="middle">1500</text>
<text class="tick" x="1456.10" y="1508.5" text-anchor="middle">2000</text>
<text class="tick" x="1761.65" y="1508.5" text-anchor="middle">2500</text>
<text class="tick" x="2067.20" y="1508.5" text-anchor="middle">3000</text>
<text class="tick" x="217.8" y="1451.70" text-anchor="end">0</text>
<text class="tick" x="217.8" y="1176.66" text-anchor="end">1</text>
<text class="tick" x="217.8" y="901.62" text-anchor="end">2</text>
<text class="tick" x="217.8" y="626.58" text-anchor="end">3</text>
<text class="tick" x="217.8" y="351.54" text-anchor="end">4</text>
<text class="tick" x="217.8" y="76.50" text-anchor="end">5</text>
<rect x="509.00" y="1083.10" width="1492.10" height="304.30" fill="#fff" stroke="#000" stroke-width="4.17"/>
<circle cx="543.3" cy="1122.4" r="8.45" fill="#0000ff"/><circle cx="612.3" cy="1122.4" r="8.45" fill="#0000ff"/>
<text class="leg" x="666.9" y="1140.9">No Squeezing</text>
<circle cx="543.3" cy="1195.3" r="8.45" fill="#008000"/><circle cx="612.3" cy="1195.3" r="8.45" fill="#008000"/>
<text class="leg" x="666.9" y="1213.2">Initial Squeezing</text>
<circle cx="543.3" cy="1267.4" r="8.45" fill="#ff0000"/><circle cx="612.3" cy="1267.4" r="8.45" fill="#ff0000"/>
<text class="leg" x="666.9" y="1285.4">Periodic Squeezing</text>
<line x1="542.6" y1="1339.3" x2="612.4" y2="1339.3" stroke="#000" stroke-width="4.17" stroke-dasharray="25 25"/>
<text class="leg" x="666.9" y="1357.7">Theoretical limit of entanglement saturation at 4.581</text>
<text class="mi" font-size="100" stroke="#fff" stroke-width="1.70" transform="matrix(1.2634 0 0 1.2634 1120.48 1642.91)">n</text>
<g transform="translate(112.1,861.9) rotate(-90)">
<text class="mi" font-size="100" transform="matrix(1.4893 0 0 1.2977 1.49 0.00)">E</text>
<text class="mr" font-size="100" stroke="#fff" stroke-width="2.40" transform="matrix(1.2381 0 0 1.4132 91.14 3.12)">(</text>
<text class="mi" font-size="100" stroke="#fff" stroke-width="1.70" transform="matrix(1.2567 0 0 1.2567 139.45 3.20)">n</text>
<text class="mr" font-size="100" stroke="#fff" stroke-width="2.40" transform="matrix(1.2161 0 0 1.4132 209.69 3.12)">)</text>
</g>
</svg>
</body>
</html>
